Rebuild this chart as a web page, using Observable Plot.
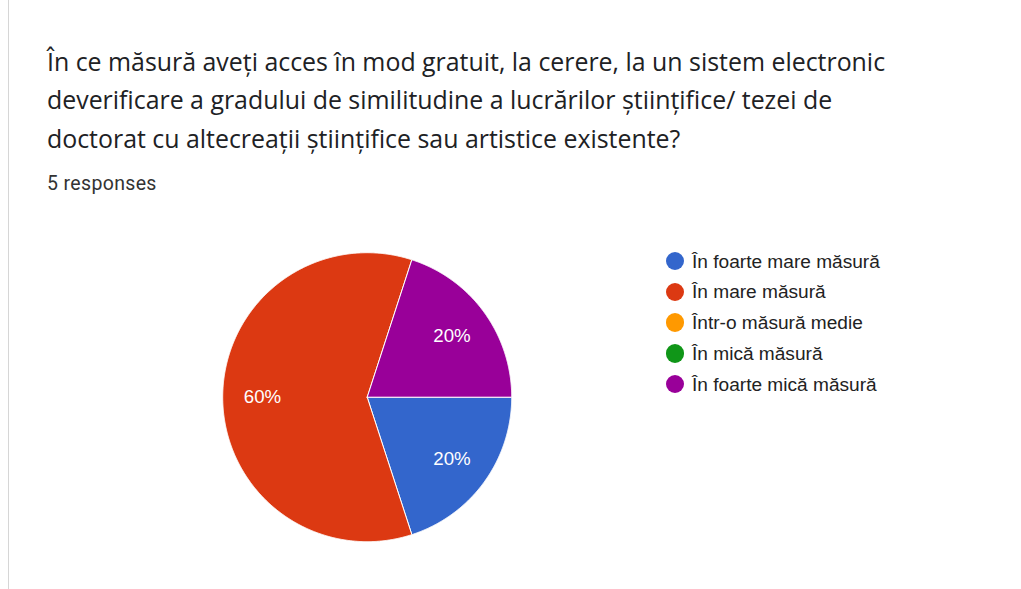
<!DOCTYPE html>
<html>
<head>
<meta charset="utf-8">
<script src="https://cdn.jsdelivr.net/npm/d3@7"></script>
<script src="https://cdn.jsdelivr.net/npm/@observablehq/plot@0.6"></script>
<style>
  html, body { margin: 0; padding: 0; background: #fff; }
  #page { position: relative; width: 1021px; height: 589px; overflow: hidden; background: #fff; }
  #rule { position: absolute; left: 8px; top: 0; width: 1px; height: 589px; background: #d6d6d6; }
  #title { position: absolute; left: 47px; top: 41.8px; font-family: "Open Sans", sans-serif; font-size: 24.9px; line-height: 38.5px; color: #202124; white-space: nowrap; }
  #sub { position: absolute; left: 47px; top: 172.5px; font-family: Roboto, sans-serif; font-size: 19.5px; line-height: 22px; letter-spacing: 0.35px; color: #333; }
  #chart { position: absolute; left: 0; top: 220px; }
  .leg { position: absolute; left: 665.5px; height: 19px; display: flex; align-items: center; font-family: "Liberation Sans", Arial, sans-serif; font-size: 19.1px; line-height: 19px; color: #222; white-space: nowrap; }
  .leg .sw { width: 18.5px; height: 18.5px; border-radius: 50%; margin-right: 8px; flex: none; }
</style>
</head>
<body>
<div id="page">
  <div id="rule"></div>
  <div id="title"></div>
  <div id="sub"></div>
  <div id="chart"></div>
</div>
<script>
const titleLines = [
  "În ce măsură aveți acces în mod gratuit, la cerere, la un sistem electronic",
  "deverificare a gradului de similitudine a lucrărilor științifice/ tezei de",
  "doctorat cu altecreații științifice sau artistice existente?"
];
const subtitle = "5 responses";
const categories = ["În foarte mare măsură", "În mare măsură", "Într-o măsură medie", "În mică măsură", "În foarte mică măsură"];
const counts = [1, 3, 0, 0, 1];
const colors = ["#3366cc", "#dc3912", "#ff9900", "#109618", "#990099"];

document.getElementById("title").innerHTML = titleLines.map(s => s.replace(/&/g, "&amp;").replace(/</g, "&lt;")).join("<br>");
document.getElementById("sub").textContent = subtitle;

const total = d3.sum(counts);
const arcs = d3.pie().sort(null).value(d => d.count)
  .startAngle(Math.PI / 2).endAngle(Math.PI / 2 + 2 * Math.PI)(
    categories.map((c, i) => ({cat: c, count: counts[i]}))
  );

// polygon outline of each slice in unit-circle data coordinates
const slicePts = [];
for (const a of arcs) {
  if (a.data.count === 0) continue;
  slicePts.push({cat: a.data.cat, x: 0, y: 0});
  const n = Math.max(2, Math.ceil((a.endAngle - a.startAngle) / (Math.PI / 720)));
  for (let k = 0; k <= n; k++) {
    const t = a.startAngle + (a.endAngle - a.startAngle) * k / n;
    slicePts.push({cat: a.data.cat, x: Math.sin(t), y: Math.cos(t)});
  }
  slicePts.push({cat: a.data.cat, x: 0, y: 0});
}
const labels = arcs.filter(a => a.data.count > 0).map(a => {
  const m = (a.startAngle + a.endAngle) / 2;
  return {x: 0.725 * Math.sin(m), y: 0.725 * Math.cos(m), text: Math.round(100 * a.data.count / total) + "%"};
});

const chart = Plot.plot({
  width: 1021,
  height: 350,
  style: {background: "transparent", overflow: "visible"},
  x: {domain: [-1, 1], range: [222.2, 511.2], axis: null},
  y: {domain: [-1, 1], range: [321.2, 32.2], axis: null},
  color: {domain: categories, range: colors, legend: false},
  marks: [
    Plot.line(slicePts, {x: "x", y: "y", z: "cat", fill: "cat", stroke: "white", strokeWidth: 1, strokeLinejoin: "round"}),
    Plot.text(labels, {x: "x", y: "y", text: "text", fill: "white", fontSize: 18.7, fontFamily: "Liberation Sans, Arial, sans-serif"})
  ]
});
document.getElementById("chart").appendChild(chart);

const page = document.getElementById("page");
categories.forEach((c, i) => {
  const row = document.createElement("div");
  row.className = "leg";
  row.style.top = (261 + i * 30.75 - 9.5) + "px";
  const sw = document.createElement("span");
  sw.className = "sw";
  sw.style.background = colors[i];
  const tx = document.createElement("span");
  tx.textContent = c;
  row.appendChild(sw);
  row.appendChild(tx);
  page.appendChild(row);
});
</script>
</body>
</html>
